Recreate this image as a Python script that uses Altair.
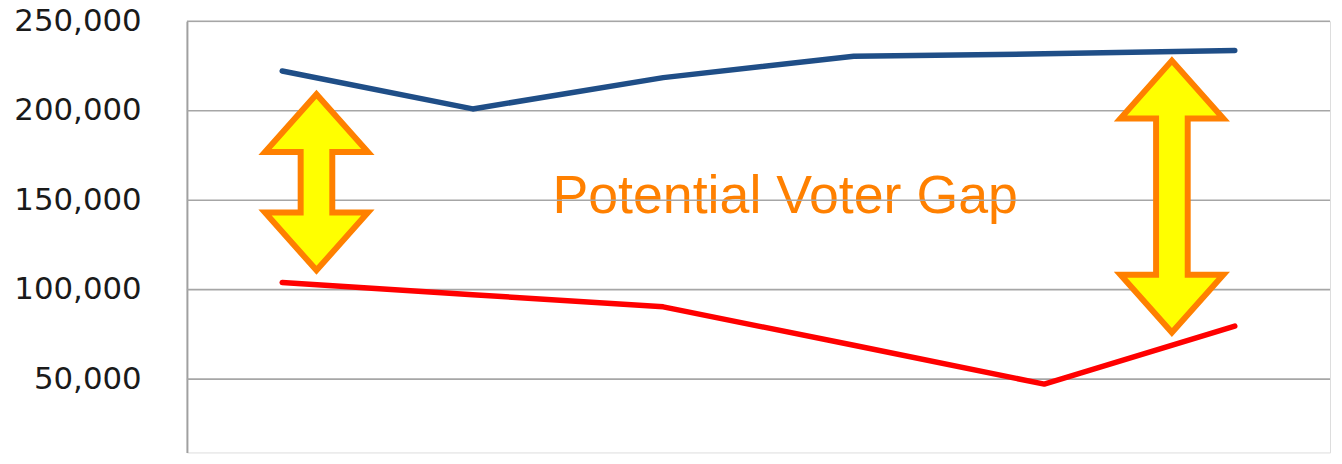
import altair as alt
import pandas as pd

# ---- data ----
periods = [1, 2, 3, 4, 5, 6]
eligible = [222200, 201000, 218500, 230400, 231800, 233700]   # blue series
voters = [104000, 97200, 90400, 68900, 47200, 79600]          # red series
y_ticks = [50000, 100000, 150000, 200000, 250000]

# arrows: centre position (in period units) and top / bottom tip values
arrow_ids = ["left", "right"]
arrow_x = [1.18, 5.67]
arrow_top = [209200, 228000]
arrow_bottom = [110800, 76000]

label_text = ["Potential Voter Gap"]
label_x = [3.64]
label_y = [142800]

# ---- style constants ----
HEAD_HALF = 0.27      # head half width (period units)
SHAFT_HALF = 0.083    # shaft half width (period units)
HEAD_LEN = 32300      # head length (value units)

rows = []
for s, vals in (("Eligible", eligible), ("Voters", voters)):
    for p, v in zip(periods, vals):
        rows.append({"period": p, "value": v, "series": s})
lines_df = pd.DataFrame(rows)

arrow_rows = []
for aid, cx, top, bot in zip(arrow_ids, arrow_x, arrow_top, arrow_bottom):
    mid = (top + bot) / 2
    pts = [
        (cx - SHAFT_HALF, mid),
        (cx - SHAFT_HALF, top - HEAD_LEN),
        (cx - HEAD_HALF, top - HEAD_LEN),
        (cx, top),
        (cx + HEAD_HALF, top - HEAD_LEN),
        (cx + SHAFT_HALF, top - HEAD_LEN),
        (cx + SHAFT_HALF, bot + HEAD_LEN),
        (cx + HEAD_HALF, bot + HEAD_LEN),
        (cx, bot),
        (cx - HEAD_HALF, bot + HEAD_LEN),
        (cx - SHAFT_HALF, bot + HEAD_LEN),
        (cx - SHAFT_HALF, mid),
    ]
    for i, (xv, yv) in enumerate(pts):
        arrow_rows.append({"arrow": aid, "ord": i, "ax": xv, "ay": yv})
arrow_df = pd.DataFrame(arrow_rows)

ticks_df = pd.DataFrame({"tick": y_ticks})
text_df = pd.DataFrame({"t": label_text, "x": label_x, "y": label_y})

xscale = alt.Scale(domain=[0.5, 6.5], nice=False, zero=False)
yscale = alt.Scale(domain=[9000, 250000], nice=False, zero=False)


def yaxis():
    return alt.Axis(
        values=y_ticks, format=",.0f", grid=False, ticks=False,
        labelFont="DejaVu Sans", labelFontSize=31, labelColor="#1a1a1a",
        labelPadding=46, domainColor="#a0a0a0", domainWidth=2, title=None,
        labelOverlap=False,
    )


text_layer = alt.Chart(text_df).mark_text(
    font="Liberation Sans", fontSize=54, color="#FF8000",
    align="center", baseline="alphabetic",
).encode(
    x=alt.X("x:Q", scale=xscale, axis=None),
    y=alt.Y("y:Q", scale=yscale, axis=yaxis()),
    text="t:N",
)

grid_layer = alt.Chart(ticks_df).mark_rule(color="#a6a6a6", strokeWidth=1.6).encode(
    y=alt.Y("tick:Q", scale=yscale, axis=yaxis()),
    x=alt.value(0),
    x2=alt.value(1150),
)

line_layer = alt.Chart(lines_df).mark_line(strokeWidth=5.5, strokeCap="round", strokeJoin="round").encode(
    x=alt.X("period:Q", scale=xscale, axis=None),
    y=alt.Y("value:Q", scale=yscale, axis=yaxis()),
    color=alt.Color("series:N", scale=alt.Scale(domain=["Eligible", "Voters"],
                                                range=["#1F4E87", "#FF0000"]), legend=None),
)

arrow_layer = alt.Chart(arrow_df).mark_line(
    fill="#FFFF00", stroke="#FF8000", strokeWidth=6,
    strokeJoin="miter", strokeMiterLimit=10, interpolate="linear",
).encode(
    x=alt.X("ax:Q", scale=xscale, axis=None),
    y=alt.Y("ay:Q", scale=yscale, axis=yaxis()),
    detail="arrow:N",
    order="ord:Q",
)

chart = alt.layer(text_layer, grid_layer, line_layer, arrow_layer).properties(
    width=1150, height=433.8,
    autosize=alt.AutoSizeParams(type="none"),
    padding={"left": 180, "top": 12, "right": 4, "bottom": 0},
).configure_view(stroke=None).configure(background="white")

chart.save("out.html", embed_options={"renderer": "svg", "actions": False})
